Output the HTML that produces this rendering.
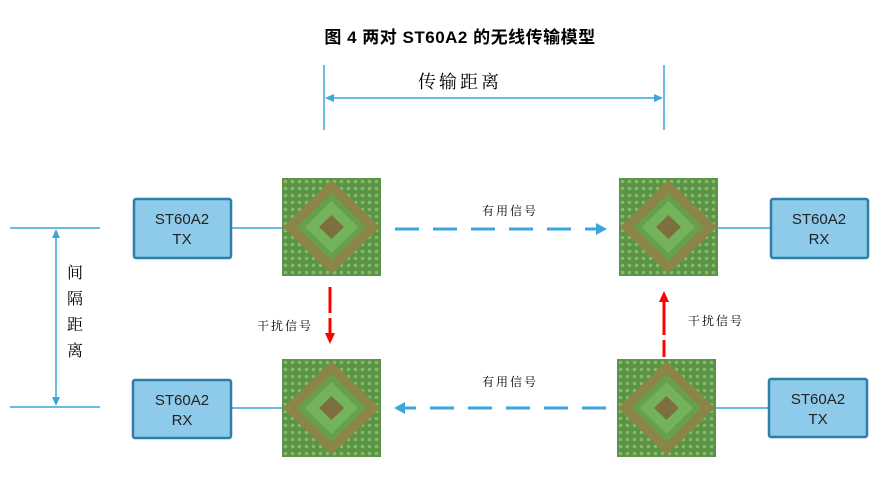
<!DOCTYPE html>
<html><head><meta charset="utf-8"><style>
body{margin:0;background:#fff;width:887px;height:479px;overflow:hidden;font-family:"Liberation Sans","Noto Sans CJK SC",sans-serif}
</style></head><body>
<svg width="887" height="479" xmlns="http://www.w3.org/2000/svg">
<defs>
<pattern id="dots" width="7" height="7" patternUnits="userSpaceOnUse"><rect width="7" height="7" fill="#5a9444"/><circle cx="3.5" cy="3.5" r="1.8" fill="#86b872"/></pattern>
<g id="chip">
<rect x="0" y="0" width="99" height="98" fill="url(#dots)"/>
<polygon points="49.5,2 98,49 49.5,96 1,49" fill="#8c8548"/>
<polygon points="49.5,15 84,49 49.5,83 15,49" fill="#66a04e"/>
<polygon points="49.5,23 76,49 49.5,75 23,49" fill="#74b35b"/>
<polygon points="49.5,37 62,49 49.5,61 37,49" fill="#7d6f3e"/>
</g>
</defs>
<text x="460" y="43" font-size="17" font-weight="bold" text-anchor="middle" letter-spacing="0.5" font-family="'Liberation Sans','Noto Sans CJK SC',sans-serif">图 4  两对 ST60A2 的无线传输模型</text>
<g stroke="#3aa6dc" stroke-width="1.5" fill="none">
<line x1="324" y1="65" x2="324" y2="130"/><line x1="664" y1="65" x2="664" y2="130"/>
<line x1="330" y1="98" x2="658" y2="98"/>
<line x1="10" y1="228" x2="100" y2="228"/><line x1="10" y1="407" x2="100" y2="407"/>
<line x1="56" y1="236" x2="56" y2="399"/>
<line x1="232" y1="228" x2="282" y2="228"/><line x1="232" y1="408" x2="282" y2="408"/>
<line x1="718" y1="228" x2="770" y2="228"/><line x1="716" y1="408" x2="768" y2="408"/>
</g>
<g fill="#3aa6dc">
<path d="M325,98 L334,94 L334,102z"/><path d="M663,98 L654,94 L654,102z"/>
<path d="M56,229 L52,238 L60,238z"/><path d="M56,406 L52,397 L60,397z"/>
</g>
<text x="460" y="88" font-size="18" text-anchor="middle" font-family="'Noto Serif CJK SC',serif" letter-spacing="3">传输距离</text>
<g font-size="16" font-family="'Noto Serif CJK SC',serif" text-anchor="middle">
<text x="75" y="278">间</text><text x="75" y="304">隔</text><text x="75" y="330">距</text><text x="75" y="356">离</text>
</g>
<g fill="#8ecbea" stroke="#2e7fa8" stroke-width="2.5">
<rect x="134" y="199" width="97" height="59" rx="2"/>
<rect x="133" y="380" width="98" height="58" rx="2"/>
<rect x="771" y="199" width="97" height="59" rx="2"/>
<rect x="769" y="379" width="98" height="58" rx="2"/>
</g>
<g font-size="15" text-anchor="middle" fill="#222">
<text x="182" y="224">ST60A2</text><text x="182" y="244">TX</text>
<text x="182" y="405">ST60A2</text><text x="182" y="425">RX</text>
<text x="819" y="224">ST60A2</text><text x="819" y="244">RX</text>
<text x="818" y="404">ST60A2</text><text x="818" y="424">TX</text>
</g>
<use href="#chip" x="282" y="178"/><use href="#chip" x="619" y="178"/>
<use href="#chip" x="282" y="359"/><use href="#chip" x="617" y="359"/>
<g stroke="#3aa6dc" stroke-width="3" fill="none">
<line x1="395" y1="229" x2="598" y2="229" stroke-dasharray="24,14"/>
<line x1="606" y1="408" x2="403" y2="408" stroke-dasharray="24,14"/>
</g>
<path d="M596,223 L607,229 L596,235z" fill="#3aa6dc"/>
<path d="M405,402 L394,408 L405,414z" fill="#3aa6dc"/>
<g stroke="#f00" stroke-width="3">
<line x1="330" y1="287" x2="330" y2="313"/><line x1="330" y1="318" x2="330" y2="333"/>
<line x1="664" y1="357" x2="664" y2="340"/><line x1="664" y1="335" x2="664" y2="302"/>
</g>
<path d="M325,333 L330,344 L335,333z" fill="#f00"/>
<path d="M659,302 L664,291 L669,302z" fill="#f00"/>
<g font-size="12" font-family="'Noto Serif CJK SC',serif" letter-spacing="2" text-anchor="middle">
<text x="510" y="215">有用信号</text><text x="510" y="386">有用信号</text>
<text x="285" y="330">干扰信号</text><text x="716" y="325">干扰信号</text>
</g>
</svg>
</body></html>
